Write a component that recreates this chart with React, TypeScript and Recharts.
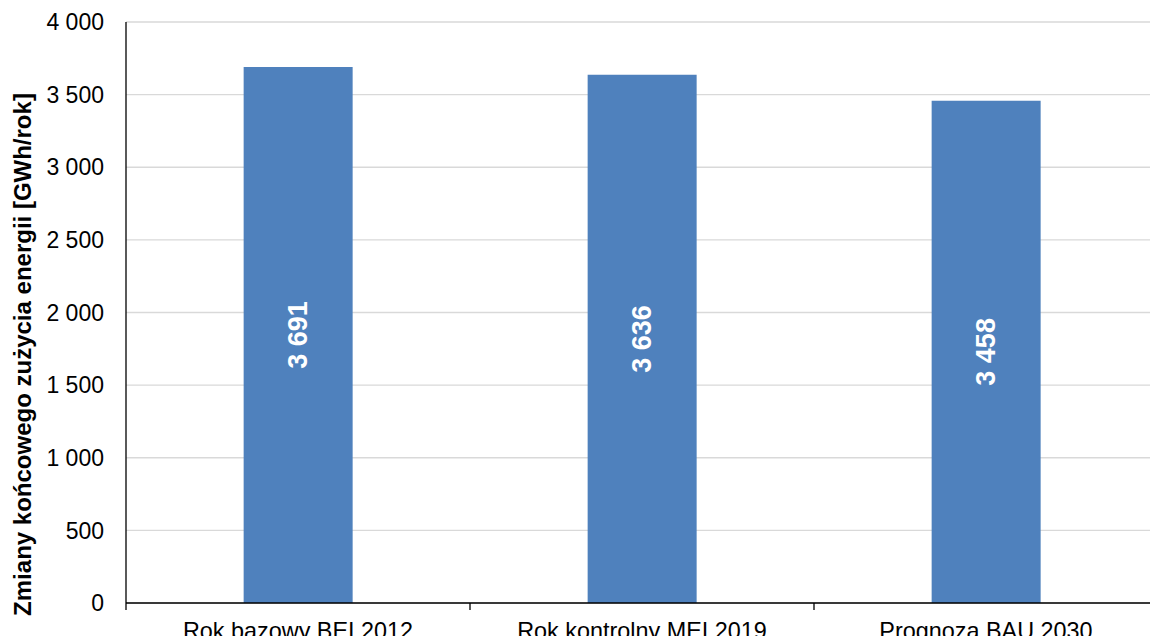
import React from "react";
import { BarChart, Bar, XAxis, YAxis, CartesianGrid, LabelList } from "recharts";

const categories = ["Rok bazowy BEI 2012", "Rok kontrolny MEI 2019", "Prognoza BAU 2030"];
const consumption = [3691, 3636, 3458];
const yTicks = [0, 500, 1000, 1500, 2000, 2500, 3000, 3500, 4000];
const yTitle = "Zmiany końcowego zużycia energii [GWh/rok]";

const data = categories.map((name, i) => ({ name, value: consumption[i] }));

const FONT = "Arial, 'Liberation Sans', sans-serif";

const fmt = (v: number) => {
  const s = String(Math.round(v));
  return s.replace(/\B(?=(\d{3})+(?!\d))/g, " ");
};

const CategoryTick = (props: any) => {
  const { x, y, payload, index, visibleTicksCount } = props;
  const half = payload && payload.offset ? payload.offset : 172;
  const axisY = y - 8;
  return (
    <g>
      <line x1={x - half} x2={x - half} y1={axisY} y2={axisY + 7} stroke="#000" strokeWidth={1.3} />
      {index === (visibleTicksCount ?? 3) - 1 && (
        <line x1={x + half} x2={x + half} y1={axisY} y2={axisY + 7} stroke="#000" strokeWidth={1.3} />
      )}
      <text x={x} y={axisY + 35.5} textAnchor="middle" fontFamily={FONT} fontSize={23.4} fill="#000">
        {payload.value}
      </text>
    </g>
  );
};

const ValueLabel = (props: any) => {
  const { x, y, width, height, value } = props;
  const cx = x + width / 2;
  const cy = y + height / 2;
  return (
    <text
      x={cx}
      y={cy}
      transform={`rotate(-90 ${cx} ${cy})`}
      textAnchor="middle"
      dominantBaseline="central"
      fontFamily={FONT}
      fontSize={27}
      fontWeight="bold"
      fill="#fff"
    >
      {fmt(value)}
    </text>
  );
};

const YTitle = (props: any) => {
  const { viewBox } = props;
  const cx = viewBox.x + 22;
  const cy = viewBox.y + viewBox.height / 2 + 42;
  return (
    <text
      x={cx}
      y={cy}
      transform={`rotate(-90 ${cx} ${cy})`}
      textAnchor="middle"
      dominantBaseline="central"
      fontFamily={FONT}
      fontSize={24}
      fontWeight="bold"
      fill="#000"
    >
      {yTitle}
    </text>
  );
};

export default function App() {
  return (
    <div style={{ margin: -8, width: 1158, height: 644, background: "#fff" }}>
      <BarChart
        width={1158}
        height={644}
        data={data}
        margin={{ top: 22, right: 0, bottom: 0, left: 0 }}
        barCategoryGap="34.2%"
      >
        <CartesianGrid vertical={false} stroke="#d9d9d9" strokeWidth={1.3} />
        <XAxis
          dataKey="name"
          height={41}
          axisLine={{ stroke: "#000", strokeWidth: 1.3 }}
          tickLine={false}
          tick={<CategoryTick />}
          interval={0}
        />
        <YAxis
          width={126}
          domain={[0, 4000]}
          ticks={yTicks}
          interval={0}
          axisLine={{ stroke: "#000", strokeWidth: 1.3 }}
          tickLine={false}
          tickMargin={16}
          tickFormatter={fmt}
          tick={{ fontFamily: FONT, fontSize: 23, fill: "#000" }}
          label={<YTitle />}
        />
        <Bar dataKey="value" fill="#4f81bd" isAnimationActive={false}>
          <LabelList dataKey="value" content={<ValueLabel />} />
        </Bar>
      </BarChart>
    </div>
  );
}
